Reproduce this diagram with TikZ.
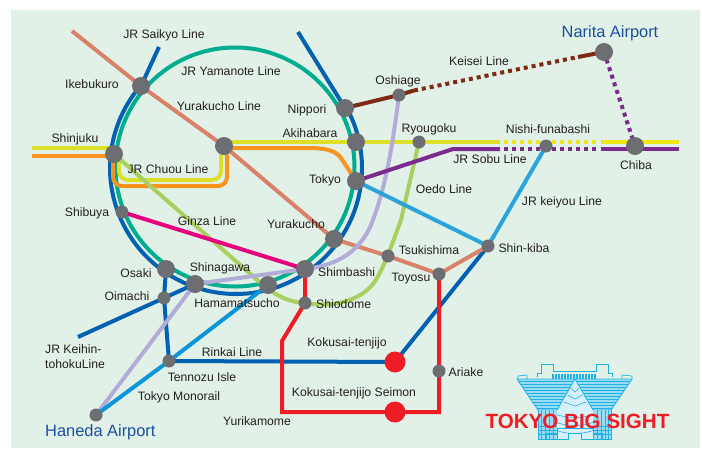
\documentclass[tikz,border=0pt]{standalone}
\usepackage{fontspec}
\setmainfont{Liberation Sans}
\usetikzlibrary{backgrounds}
\pgfdeclarelayer{paper}
\pgfdeclarelayer{lines}
\pgfsetlayers{paper,lines,main}
\definecolor{paperc}{HTML}{E2F1E7}
\definecolor{stnc}{HTML}{6D6E71}
\definecolor{tealc}{HTML}{00AD8E}
\definecolor{bluec}{HTML}{0062B1}
\definecolor{yelc}{HTML}{DDE028}
\definecolor{yelb}{HTML}{F0E816}
\definecolor{orc}{HTML}{F7931E}
\definecolor{salc}{HTML}{D9826A}
\definecolor{grnc}{HTML}{A8D060}
\definecolor{pinkc}{HTML}{E6007E}
\definecolor{lavc}{HTML}{B3ACD8}
\definecolor{brnc}{HTML}{7E2A14}
\definecolor{purc}{HTML}{7B2A90}
\definecolor{skyc}{HTML}{2BA4DC}
\definecolor{monoc}{HTML}{0A96D8}
\definecolor{redc}{HTML}{EE1C25}
\definecolor{txtc}{HTML}{231F20}
\definecolor{navyc}{HTML}{1A4F9F}
\definecolor{logoc}{HTML}{1FB0E6}
\definecolor{logof}{HTML}{9ADCF4}
\tikzset{
 big/.style={circle,fill=stnc,inner sep=0,minimum size=18pt},
 small/.style={circle,fill=stnc,inner sep=0,minimum size=13pt},
 target/.style={circle,fill=redc,inner sep=0,minimum size=21pt},
 lab/.style={text=txtc,inner sep=0,font=\fontsize{12.2}{14.5}\selectfont},
 air/.style={text=navyc,inner sep=0,font=\fontsize{16.4}{19}\selectfont},
 rail/.style={line width=4pt},
 dots/.style={line width=4pt,dash pattern=on 4pt off 4pt}
}
\begin{document}
\begin{tikzpicture}[x=1pt,y=-1pt]
\useasboundingbox (0,0) rectangle (702,448);
\begin{pgfonlayer}{paper}
\fill[white] (0,0) rectangle (702,448);
\fill[paperc] (11,10) rectangle (700,448);
\end{pgfonlayer}
% stations
\node[big] (ikebukuro) at (141,86) {};
\node[big] (shinjuku) at (114,154) {};
\node[small] (shibuya) at (122,212) {};
\node[big] (osaki) at (166,269) {};
\node[small] (oimachi) at (164,298) {};
\node[big] (shinagawa) at (195,284) {};
\node[big] (hamamatsucho) at (268,285) {};
\node[big] (shimbashi) at (305,269) {};
\node[small] (shiodome) at (305,303) {};
\node[small] (tennozu) at (169,361) {};
\node[small] (haneda) at (96,415) {};
\node[big] (chuo) at (224,146) {};
\node[big] (nippori) at (345,108) {};
\node[big] (akihabara) at (356,142) {};
\node[big] (tokyo) at (356,181) {};
\node[big] (yurakucho) at (334,239) {};
\node[small] (oshiage) at (399,95) {};
\node[small] (ryougoku) at (419,142) {};
\node[small] (nishi) at (546,146) {};
\node[big] (chiba) at (635,146) {};
\node[big] (narita) at (604,52) {};
\node[small] (tsukishima) at (388,256) {};
\node[small] (toyosu) at (439,274) {};
\node[small] (shinkiba) at (488,246) {};
\node[target] (kokusai) at (395,362) {};
\node[target] (seimon) at (395,412) {};
\node[small] (ariake) at (439,371) {};
% free ends
\coordinate (saikyoN) at (159,47);
\coordinate (keihinN) at (298,32);
\coordinate (keihinS) at (78,337);
\coordinate (yuraN) at (72,31);
\coordinate (yelW) at (32,148);
\coordinate (yelS) at (114,148);
\coordinate (orW) at (32,156);
\coordinate (orS) at (114,156);
\coordinate (yelA) at (500,142);
\coordinate (yelB) at (504,142);
\coordinate (yelC) at (597,142);
\coordinate (yelD) at (601,142);
\coordinate (yelE) at (679,142);
\coordinate (purA) at (453,149);
\coordinate (purB) at (500,149);
\coordinate (purC) at (504,149);
\coordinate (purD) at (597,149);
\coordinate (purE) at (601,149);
\coordinate (purF) at (679,149);
\coordinate (keiA) at (414,90.5);
\coordinate (keiB) at (578,57);
\begin{pgfonlayer}{lines}
% Keihin-tohoku / Saikyo loop
\draw[rail,bluec] (saikyoN) -- (ikebukuro.center) -- plot[domain=220.8:-28.8,samples=100] ({236+126*cos(\x)},{168+126*sin(\x)}) -- (nippori.center) -- (keihinN);
\draw[rail,bluec] (keihinS) -- (oimachi.center) -- (shinagawa.center);
\draw[rail,bluec] (osaki.center) -- (oimachi.center) -- (tennozu.center) -- (kokusai.center) -- (shinkiba.center);
% Yamanote
\draw[rail,tealc] (235,167) circle[radius=119.5];
% Chuo
\draw[rail,orc,rounded corners=9pt] (shinjuku.center) -- (113,156) -- (113,186) -- (227,186) -- (227,148) -- (chuo.center);
\draw[rail,orc] (orW) -- (orS);
\draw[rail,orc] (224,148) -- (307,148) .. controls (325,148) and (335,150) .. (341,158) -- (tokyo.center);
\draw[rail,yelc,rounded corners=9pt] (shinjuku.center) -- (119,154) -- (119,180) -- (221,180) -- (221,142) -- (chuo.center);
\draw[rail,yelc] (yelW) -- (yelS);
\draw[rail,yelc] (224,142) -- (akihabara.center) -- (ryougoku.center) -- (yelA);
\draw[dots,yelb] (yelB) -- (yelC);
\draw[rail,yelb] (yelD) -- (yelE);
% Yurakucho and on
\draw[rail,salc] (yuraN) -- (ikebukuro.center) -- (chuo.center) -- (yurakucho.center) -- (tsukishima.center) -- (toyosu.center) -- (shinkiba.center);
% Oedo and Ginza
\draw[rail,grnc] (shinjuku.center) -- (255,278) .. controls (270,292) and (285,302) .. (shiodome.center) .. controls (335,308) and (360,300) .. (373,284) .. controls (382,272) and (390,250) .. (401,220) -- (ryougoku.center);
% Asakusa
\draw[rail,lavc] (oshiage.center) .. controls (392,150) and (385,190) .. (371,225) .. controls (360,250) and (340,265) .. (shimbashi.center) -- (shinagawa.center) -- (haneda.center);
% Shibuya - Shimbashi
\draw[rail,pinkc] (shibuya.center) -- (shimbashi.center);
% Keisei
\draw[rail,brnc] (nippori.center) -- (oshiage.center) -- (keiA);
\draw[dots,brnc] (keiA) -- (keiB);
\draw[rail,brnc] (keiB) -- (narita.center);
% Sobu
\draw[rail,purc] (tokyo.center) -- (purA) -- (purB);
\draw[dots,purc] (purC) -- (purD);
\draw[rail,purc] (purE) -- (purF);
\draw[dots,purc] (narita.center) -- (chiba.center);
% Keiyo
\draw[rail,skyc] (tokyo.center) -- (shinkiba.center) -- (nishi.center);
% Monorail
\draw[rail,monoc] (hamamatsucho.center) -- (tennozu.center) -- (haneda.center);
% Yurikamome
\draw[rail,redc] (shimbashi.center) -- (shiodome.center) -- (282,341) -- (282,412) -- (seimon.center) -- (439,412) -- (ariake.center) -- (toyosu.center);
\end{pgfonlayer}
% labels
\node[lab] (lSaikyo) at (164,35) {JR Saikyo Line};
\node[lab] (lYamanote) at (231,71) {JR Yamanote Line};
\node[lab] (lIke) at (92,84) {Ikebukuro};
\node[lab] (lYuraL) at (219,106) {Yurakucho Line};
\node[lab] (lNip) at (307,110) {Nippori};
\node[lab] (lAki) at (310,133) {Akihabara};
\node[lab] (lShinj) at (75,139) {Shinjuku};
\node[lab] (lChuo) at (168,169) {JR Chuou Line};
\node[lab] (lTokyo) at (325,180) {Tokyo};
\node[lab] (lShib) at (87,213) {Shibuya};
\node[lab] (lGinza) at (207,221) {Ginza Line};
\node[lab] (lYura) at (296,224) {Yurakucho};
\node[lab] (lOsaki) at (136,273) {Osaki};
\node[lab] (lOima) at (127,296) {Oimachi};
\node[lab] (lShina) at (220,268) {Shinagawa};
\node[lab] (lHama) at (237,303) {Hamamatsucho};
\node[lab,anchor=west] (lShim) at (318,272) {Shimbashi};
\node[lab,anchor=west] (lShio) at (316,304) {Shiodome};
\node[lab] (lKoku) at (347,343) {Kokusai-tenjijo};
\node[lab] (lRinkai) at (232,352) {Rinkai Line};
\node[lab] (lTenn) at (202,377) {Tennozu Isle};
\node[lab] (lMono) at (179,397) {Tokyo Monorail};
\node[lab,anchor=west,align=left] (lKeihin) at (45,356.5) {JR Keihin-\\tohokuLine};
\node[air,anchor=west] (lHaneda) at (45,432) {Haneda Airport};
\node[lab] (lSeimon) at (354,393) {Kokusai-tenjijo Seimon};
\node[lab] (lYurika) at (257,421) {Yurikamome};
\node[lab] (lOshi) at (398,81) {Oshiage};
\node[lab] (lRyou) at (429,129) {Ryougoku};
\node[lab] (lKeisei) at (479,61) {Keisei Line};
\node[air] (lNarita) at (610,33) {Narita Airport};
\node[lab] (lNishi) at (548,129) {Nishi-funabashi};
\node[lab] (lSobu) at (490,159) {JR Sobu Line};
\node[lab] (lChiba) at (636,165) {Chiba};
\node[lab] (lOedo) at (444,189) {Oedo Line};
\node[lab] (lKeiyo) at (562,202) {JR keiyou Line};
\node[lab] (lTsuki) at (429,250) {Tsukishima};
\node[lab] (lToyo) at (411,279) {Toyosu};
\node[lab] (lKiba) at (524,248) {Shin-kiba};
\node[lab] (lAri) at (466,372) {Ariake};
% Tokyo Big Sight emblem
\begin{scope}[logoc]
 \draw[line width=.9pt,fill=paperc] (537,377) -- (537,373) -- (541,373) -- (541,364) -- (553,364) -- (553,371) -- (596,371) -- (596,364) -- (608,364) -- (608,373) -- (612,373) -- (612,377);
 \fill (552,374) rectangle (597,379);
 \foreach \x in {554,557,...,596} \draw[paperc,line width=.3pt] (\x,374) -- (\x,379);
 \draw[line width=.7pt] (518,379) -- (518,376) -- (527,375) -- (527,379) (632,379) -- (632,376) -- (622,375) -- (622,379);
 % centre panel
 \fill[white!60!logof] (575,380) -- (596,413) -- (596,438) -- (553,438) -- (553,413) -- cycle;
 \foreach \y in {388,395,402} \draw[line width=.6pt] (575-\y/2+190,\y) -- (575,\y+4) -- (575+\y/2-190,\y);
 \foreach \y in {413,421,429} \draw[line width=.6pt] (553,\y) .. controls (565,\y+6) and (585,\y+6) .. (596,\y);
 % pyramids
 \begin{scope}
  \clip (517,379) -- (575,379) -- (557,410) -- (538,410) -- cycle (575,379) -- (632,379) -- (611,410) -- (593,410) -- cycle;
  \fill[logof] (510,379) rectangle (640,411);
  \foreach \y in {381,384,...,409} \draw[line width=.6pt] (510,\y) -- (640,\y);
 \end{scope}
 \draw[line width=.8pt] (517,379) -- (575,379) -- (557,410) -- (538,410) -- cycle;
 \draw[line width=.8pt] (575,379) -- (632,379) -- (611,410) -- (593,410) -- cycle;
 % legs
 \fill[logof] (538,410) rectangle (557,439) (593,410) rectangle (611,439);
 \foreach \x in {541,545,549,553} \draw[line width=.6pt] (\x,410) -- (\x,439);
 \foreach \x in {597,601,605,608} \draw[line width=.6pt] (\x,410) -- (\x,439);
 \foreach \y in {426,430,434} \draw[line width=.4pt] (538,\y) -- (557,\y) (593,\y) -- (611,\y);
 \draw[line width=.9pt] (538,410) -- (538,439) -- (568,439) -- (568,433) -- (581,433) -- (581,439) -- (611,439) -- (611,410);
 \draw[line width=.7pt] (546,433) rectangle (557,439) (593,433) rectangle (602,439);
 \draw[line width=.7pt] (557,433) -- (557,428) -- (593,428) -- (593,433);
\end{scope}
\node[inner sep=0,text=redc,font=\fontsize{20.6}{24}\selectfont\bfseries] (lSight) at (577.5,421) {TOKYO BIG SIGHT};
\end{tikzpicture}
\end{document}
